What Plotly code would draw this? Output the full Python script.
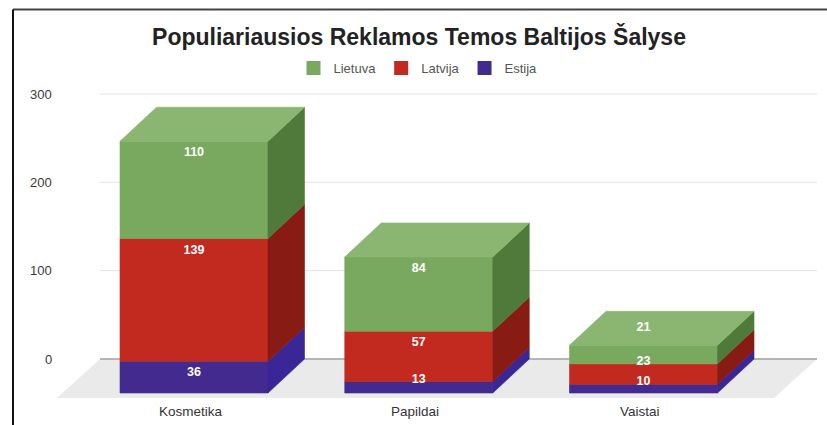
import plotly.graph_objects as go

# ---- data ----
categories = ["Kosmetika", "Papildai", "Vaistai"]
series_names = ["Estija", "Latvija", "Lietuva"]          # stacking order, bottom to top
estija = [36, 13, 10]
latvija = [139, 57, 23]
lietuva = [110, 84, 21]
y_ticks = [0, 100, 200, 300]

values = {"Estija": estija, "Latvija": latvija, "Lietuva": lietuva}
legend_order = ["Lietuva", "Latvija", "Estija"]

# face colours: front, side, top
colors = {
    "Lietuva": ("#79a95e", "#4f7a3a", "#8ab672"),
    "Latvija": ("#c22a1f", "#881b13", "#d04a3f"),
    "Estija": ("#432a8e", "#3a2697", "#5a44a3"),
}

FONT = "Liberation Sans, Arial, sans-serif"

# ---- geometry (axis units) ----
W, H = 827, 425
PX_X = 224.75          # pixels per category step
PX_Y = 265 / 300       # pixels per value unit
X0_PX, Y0_PX = 194, 359
x_range = [-X0_PX / PX_X, (W - X0_PX) / PX_X]
y_range = [-(H - Y0_PX) / PX_Y, Y0_PX / PX_Y]

BAR_W = 148 / PX_X     # front face width
DX = 36.5 / PX_X       # depth offset, horizontal
DY = 34.0 / PX_Y       # depth offset, vertical (front face sits lower)
GRID_X0 = (100 - X0_PX) / PX_X
GRID_X1 = (817 - X0_PX) / PX_X
FLOOR_DX = 43 / PX_X
FLOOR_DY = 39 / PX_Y

fig = go.Figure()

# floor
fig.add_trace(go.Scatter(
    x=[GRID_X0, GRID_X1, GRID_X1 - FLOOR_DX, GRID_X0 - FLOOR_DX, GRID_X0],
    y=[0, 0, -FLOOR_DY, -FLOOR_DY, 0],
    fill="toself", fillcolor="#eaeaea", line=dict(width=0),
    mode="lines", hoverinfo="skip", showlegend=False))

# grid lines
for t in y_ticks:
    fig.add_trace(go.Scatter(
        x=[GRID_X0, GRID_X1], y=[t, t], mode="lines",
        line=dict(color="#a0a0a0" if t == 0 else "#e2e2e2", width=1.3 if t == 0 else 1),
        hoverinfo="skip", showlegend=False))


def poly(xs, ys, color):
    fig.add_trace(go.Scatter(
        x=xs + [xs[0]], y=ys + [ys[0]], fill="toself", fillcolor=color,
        line=dict(width=0.6, color=color), mode="lines",
        hoverinfo="skip", showlegend=False))


label_x, label_y, label_text = [], [], []
for i, cat in enumerate(categories):
    base = 0
    n = len(series_names)
    for k, name in enumerate(series_names):
        v = values[name][i]
        top = base + v
        front, side, topc = colors[name]
        xl, xr = i - BAR_W / 2, i + BAR_W / 2
        fb, ft = base - DY, top - DY
        # front face
        poly([xl, xr, xr, xl], [fb, fb, ft, ft], front)
        # side face
        poly([xr, xr + DX, xr + DX, xr], [fb, base, top, ft], side)
        # top face on the highest segment
        if k == n - 1:
            poly([xl, xr, xr + DX, xl + DX], [ft, ft, top, top], topc)
        # value label
        small = v * PX_Y < 24
        if small and k == n - 1:
            ly = ft + DY / 2
        elif small:
            ly = ft + 2 / PX_Y
        else:
            ly = ft - 12 / PX_Y
        label_x.append(i)
        label_y.append(ly)
        label_text.append(str(v))
        base = top

fig.add_trace(go.Scatter(
    x=label_x, y=label_y, text=label_text, mode="text",
    textfont=dict(family=FONT, size=12.5, color="white", weight="bold"),
    hoverinfo="skip", showlegend=False, cliponaxis=False))

# legend entries
for name in legend_order:
    fig.add_trace(go.Scatter(
        x=[None], y=[None], mode="markers", name=name,
        marker=dict(symbol="square", size=14, color=colors[name][0])))

annotations = []
for t in y_ticks:
    annotations.append(dict(
        x=54 / W, xref="paper", y=t, yref="y", text=str(t), showarrow=False,
        xanchor="right", yanchor="middle",
        font=dict(family=FONT, size=13, color="#3a3a3a")))
for i, cat in enumerate(categories):
    annotations.append(dict(
        x=i - 0.015, xref="x", y=1 - 411 / H, yref="paper", text=cat, showarrow=False,
        xanchor="center", yanchor="middle",
        font=dict(family=FONT, size=13.5, color="#333333")))

fig.update_layout(
    width=W, height=H,
    margin=dict(l=0, r=0, t=0, b=0),
    paper_bgcolor="white", plot_bgcolor="white",
    title=dict(text="<b>Populiariausios Reklamos Temos Baltijos Šalyse</b>",
               x=419 / W, xanchor="center", y=1 - 37 / H, yanchor="middle",
               font=dict(family=FONT, size=23, color="#222222")),
    legend=dict(orientation="h", x=418 / W, xanchor="center", y=1 - 68 / H, yanchor="middle",
                font=dict(family=FONT, size=13, color="#555555"),
                bgcolor="rgba(0,0,0,0)", itemclick=False, itemdoubleclick=False),
    xaxis=dict(range=x_range, visible=False, fixedrange=True),
    yaxis=dict(range=y_range, visible=False, fixedrange=True),
    annotations=annotations,
    shapes=[
        dict(type="line", xref="paper", yref="paper", x0=13 / W, x1=1, y0=1 - 9.5 / H, y1=1 - 9.5 / H,
             line=dict(color="#444444", width=2)),
        dict(type="line", xref="paper", yref="paper", x0=13 / W, x1=13 / W, y0=0, y1=1 - 9.5 / H,
             line=dict(color="#111111", width=2)),
    ],
    showlegend=True,
)

fig.write_html("out.html", config={"displayModeBar": False})
